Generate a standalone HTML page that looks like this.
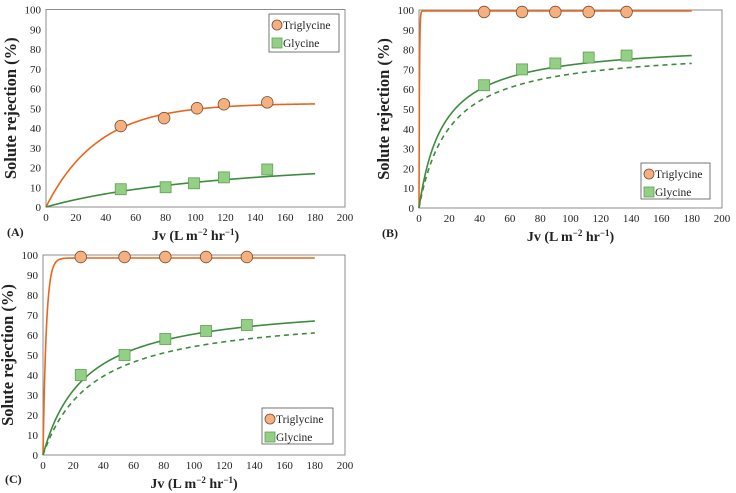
<!DOCTYPE html>
<html><head><meta charset="utf-8">
<style>
html,body{margin:0;padding:0;background:#fff;}
svg{display:block;font-family:"Liberation Serif",serif;}
</style></head>
<body>
<svg id="fig" width="736" height="493" viewBox="0 0 736 493" xmlns="http://www.w3.org/2000/svg"></svg>
<script>
// ---- data ----
const xTicks = [0,20,40,60,80,100,120,140,160,180,200];
const yTicks = [0,10,20,30,40,50,60,70,80,90,100];
const panelLabels = ["(A)","(B)","(C)"];
const seriesNames = ["Triglycine","Glycine"];
// Panel A points
const aTriX = [50,79,101,119,148];
const aTriY = [41,45,50,52,53];
const aGlyX = [50,80,99,119,148];
const aGlyY = [9,10,12,15,19];
// Panel B points
const bTriX = [43,68,90,112,137];
const bTriY = [99,99,99,99,99];
const bGlyX = [43,68,90,112,137];
const bGlyY = [62,70,73,76,77];
// Panel C points
const cTriX = [25,54,81,108,135];
const cTriY = [99,99,99,99,99];
const cGlyX = [25,54,81,108,135];
const cGlyY = [40,50,58,62,65];
// fitted-model parameters [Rmax, k]
const aTriFit = [52.5,35];   // exponential
const aGlyFit = [30,140];    // hyperbolic
const bTriFit = [99.5,0.3];
const bGlyFit = [83.9,16.1];
const bGlyDash = [81.2,20.1];
const cTriFit = [98.5,2.2];
const cGlyFit = [77.4,28];
const cGlyDash = [72.4,33.5];

const NS="http://www.w3.org/2000/svg";
const svg=document.getElementById('fig');
function mk(tag,attrs,parent){const e=document.createElementNS(NS,tag);for(const k in attrs)e.setAttribute(k,attrs[k]);(parent||svg).appendChild(e);return e;}
const expF=(p)=>J=>p[0]*(1-Math.exp(-J/p[1]));
const hypF=(p)=>J=>p[0]*J/(J+p[1]);

const panels=[
 {l:46,t:9.5,r:345,b:207,lab:[7,236],leg:[269,14,70,38],tri:[aTriX,aTriY],gly:[aGlyX,aGlyY],triF:expF(aTriFit),glyF:hypF(aGlyFit),dash:null},
 {l:419,t:10,r:722,b:208,lab:[382,237],leg:[641,163,69,36],tri:[bTriX,bTriY],gly:[bGlyX,bGlyY],triF:expF(bTriFit),glyF:hypF(bGlyFit),dash:hypF(bGlyDash)},
 {l:43,t:255,r:345,b:455,lab:[5,483],leg:[262,408,71,36],tri:[cTriX,cTriY],gly:[cGlyX,cGlyY],triF:expF(cTriFit),glyF:hypF(cGlyFit),dash:hypF(cGlyDash)}
];

panels.forEach((p,i)=>{
  const g=mk('g',{});
  
  
  const xs=v=>p.l+(p.r-p.l)*v/200;
  const ys=v=>p.b-(p.b-p.t)*v/100;
  const frame=mk('rect',{x:p.l,y:p.t,width:p.r-p.l,height:p.b-p.t,fill:'none',stroke:'#8c8c8c','stroke-width':1},g);
  
  
  xTicks.forEach(v=>{
    const t=mk('text',{x:xs(v),y:p.b+14,'font-size':11,'text-anchor':'middle',fill:'#222'},g);t.textContent=v;
    
    
  });
  yTicks.forEach(v=>{
    const t=mk('text',{x:p.l-5,y:ys(v)+4,'font-size':11,'text-anchor':'end',fill:'#222'},g);t.textContent=v;
    
    
  });
  const xt=mk('text',{x:(p.l+p.r)/2,y:p.b+33,'font-size':14,'font-weight':'bold','text-anchor':'middle',fill:'#222'},g);
  xt.innerHTML='Jv (L m<tspan dy="-5" font-size="9">−2</tspan><tspan dy="5"> hr</tspan><tspan dy="-5" font-size="9">−1</tspan><tspan dy="5">)</tspan>';
  
  
  const cy=(p.t+p.b)/2, cx=p.l-30;
  const yt=mk('text',{x:cx,y:cy,'font-size':16.5,'font-weight':'bold','text-anchor':'middle',fill:'#222',transform:`rotate(-90 ${cx} ${cy})`},g);
  yt.textContent='Solute rejection (%)';
  
  
  const pl=mk('text',{x:p.lab[0],y:p.lab[1],'font-size':12,'font-weight':'bold',fill:'#222'},g);pl.textContent=panelLabels[i];
  
  
  function curve(f,color,dash,name){
    let d='';
    for(let j=0;j<=720;j++){const J=j*180/720;d+=(j?'L':'M')+xs(J).toFixed(2)+','+ys(f(J)).toFixed(2);}
    const c=mk('path',{d:d,fill:'none',stroke:color,'stroke-width':1.6,'stroke-dasharray':dash||'none'},g);
    
    
  }
  curve(p.triF,'#e8661c',null,'triglycine-fit-line');
  curve(p.glyF,'#3d8b3d',null,'glycine-fit-line');
  if(p.dash) curve(p.dash,'#3d8b3d','5,4','glycine-dashed-line');
  p.gly[0].forEach((x,k)=>{
    const m=mk('rect',{x:xs(x)-5.5,y:ys(p.gly[1][k])-5.5,width:11,height:11,fill:'#93cf84',stroke:'#5f9e55','stroke-width':0.8},g);
    
    
  });
  p.tri[0].forEach((x,k)=>{
    const m=mk('circle',{cx:xs(x),cy:ys(p.tri[1][k]),r:5.8,fill:'#f5b080',stroke:'#7a4a30','stroke-width':0.8},g);
    
    
  });
  const [lx,ly,lw,lh]=p.leg;
  const lg=mk('g',{},g);
  
  
  mk('rect',{x:lx,y:ly,width:lw,height:lh,fill:'#fff',stroke:'#555','stroke-width':0.8},lg);
  const e1=mk('circle',{cx:lx+8,cy:ly+11,r:5,fill:'#f5b080',stroke:'#7a4a30','stroke-width':0.8},lg);
  
  
  const t1=mk('text',{x:lx+14,y:ly+15,'font-size':11.5,fill:'#222'},lg);t1.textContent=seriesNames[0];
  
  
  const e2=mk('rect',{x:lx+3,y:ly+24,width:10,height:10,fill:'#93cf84',stroke:'#5f9e55','stroke-width':0.8},lg);
  
  
  const t2=mk('text',{x:lx+14,y:ly+33,'font-size':11.5,fill:'#222'},lg);t2.textContent=seriesNames[1];
  
  
});
</script>
</body></html>
